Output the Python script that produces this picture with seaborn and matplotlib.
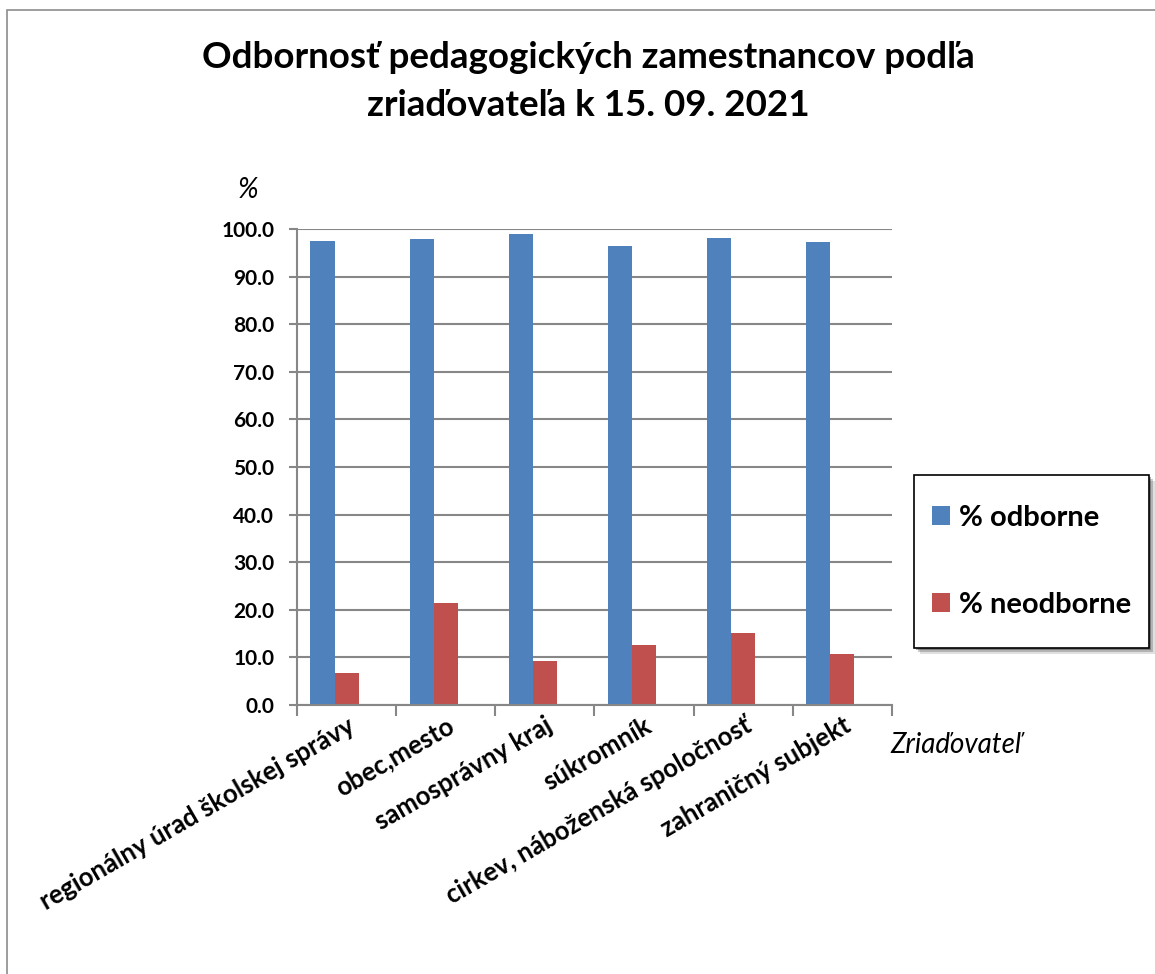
import pandas as pd
import seaborn as sns
import matplotlib.pyplot as plt
from matplotlib.patches import Rectangle

zriadovatel = ["regionálny úrad školskej správy", "obec,mesto", "samosprávny kraj",
               "súkromník", "cirkev, náboženská spoločnosť", "zahraničný subjekt"]
odborne = [97.5, 97.9, 98.9, 96.5, 98.2, 97.3]
neodborne = [6.7, 21.4, 9.3, 12.6, 15.1, 10.7]
serie = ["% odborne", "% neodborne"]

df = pd.DataFrame({
    "zriadovatel": zriadovatel * 3,
    "hodnota": odborne + neodborne + [0] * len(zriadovatel),
    "serie": [serie[0]] * 6 + [serie[1]] * 6 + ["_prazdne"] * 6,
})

sns.set_theme(style="white")
plt.rcParams['font.family'] = ['Lato', 'DejaVu Sans']
plt.rcParams['text.color'] = 'black'
plt.rcParams['xtick.labelcolor'] = 'black'
plt.rcParams['ytick.labelcolor'] = 'black'

fig = plt.figure(figsize=(11.55, 9.74), dpi=100)
ax = fig.add_axes([297 / 1155, 1 - 705 / 974, 595 / 1155, 476 / 974])

sns.barplot(data=df, x="zriadovatel", y="hodnota", hue="serie",
            hue_order=serie + ["_prazdne"],
            palette=["#4F81BD", "#C0504D", "#FFFFFF"], saturation=1,
            width=0.73, errorbar=None, legend=False, edgecolor="none",
            linewidth=0, ax=ax)

grey = "#878787"
ax.set_ylim(0, 100)
ax.set_xlim(-0.5, 5.5)
ax.set_yticks(range(0, 101, 10))
ax.set_yticklabels([f"{v:.1f}" for v in range(0, 101, 10)],
                   fontsize=15, fontweight="bold")
ax.yaxis.grid(True, color=grey, linewidth=1.5)
ax.set_axisbelow(True)
for s in ["top", "right"]:
    ax.spines[s].set_visible(False)
for s in ["left", "bottom"]:
    ax.spines[s].set_color(grey)
    ax.spines[s].set_linewidth(1.5)
ax.tick_params(axis="y", left=True, length=6, width=1.5, color=grey, pad=10.5)

# ticks between categories, labels in the middle
ax.set_xticks([i - 0.5 for i in range(7)], minor=True)
ax.tick_params(axis="x", which="minor", bottom=True, length=8, width=1.5, color=grey)
ax.tick_params(axis="x", which="major", bottom=False, length=0, pad=6)
ax.set_xticklabels(zriadovatel, rotation=30, ha="right", rotation_mode="anchor",
                   fontsize=18.5, fontweight="bold")
ax.set_xlabel("")
ax.set_ylabel("")

fig.text(248 / 1155, 1 - 190 / 974, "%", fontsize=20, style="italic",
         ha="center", va="center")
fig.text(890 / 1155, 1 - 745 / 974, "Zriaďovateľ", fontsize=20, style="italic",
         ha="left", va="center")

fig.text(588 / 1155, 1 - 57 / 974, "Odbornosť pedagogických zamestnancov podľa",
         fontsize=26.5, fontweight="bold", ha="center", va="center")
fig.text(588 / 1155, 1 - 105 / 974, "zriaďovateľa k 15. 09. 2021",
         fontsize=26.5, fontweight="bold", ha="center", va="center")

# legend box with a soft shadow
box = (914 / 1155, 1 - 648 / 974, 235 / 1155, 173 / 974)
for k, a in [(6, 0.12), (4, 0.2), (2, 0.3)]:
    fig.patches.append(Rectangle((box[0] + k / 1155, box[1] - k / 974), box[2], box[3],
                                 transform=fig.transFigure, facecolor="black",
                                 edgecolor="none", alpha=a, zorder=4))
fig.patches.append(Rectangle(box[:2], box[2], box[3], transform=fig.transFigure,
                             facecolor="white", edgecolor="black", linewidth=1.2,
                             zorder=5))

leg = fig.legend(handles=[ax.containers[0], ax.containers[1]], labels=serie,
                 loc="center", bbox_to_anchor=box, frameon=False,
                 prop={"size": 21, "weight": "bold"}, labelspacing=2.1,
                 handlelength=0.62, handleheight=0.62, handletextpad=0.3,
                 borderpad=0, borderaxespad=0)
leg.set_zorder(6)

# outer chart border
fig.patches.append(Rectangle((7 / 1155, -0.05), 1.2, 1 - 10 / 974 + 0.05,
                             transform=fig.transFigure, fill=False,
                             edgecolor="#8c8c8c", linewidth=1.2))

fig.savefig("out.png", dpi=100)
